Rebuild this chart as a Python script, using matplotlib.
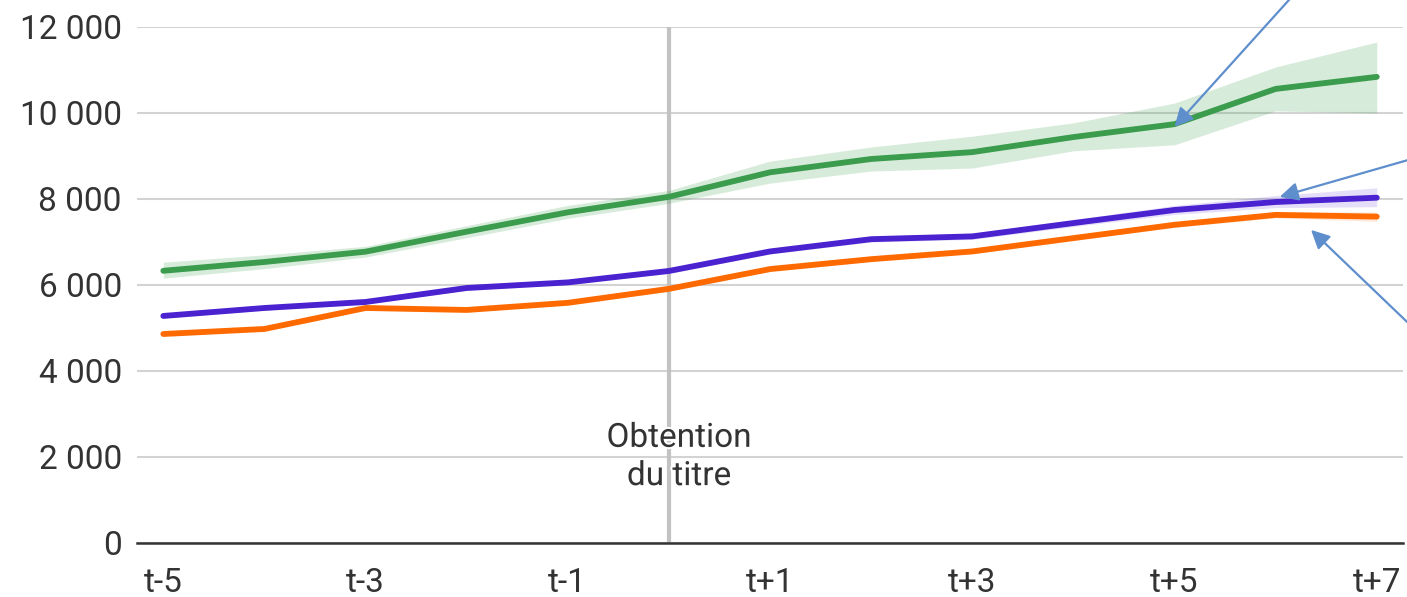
import matplotlib.pyplot as plt
import matplotlib.patheffects as pe
import numpy as np

plt.rcParams['font.family'] = ['Roboto', 'DejaVu Sans']

# periods around the title, t-5 .. t+7
periods = np.arange(-5, 8)
tick_pos = [-5, -3, -1, 1, 3, 5, 7]
tick_labels = ['t-5', 't-3', 't-1', 't+1', 't+3', 't+5', 't+7']

green = [6330, 6535, 6775, 7240, 7690, 8050, 8620, 8930, 9090, 9440, 9740, 10560, 10840]
green_hi = [6530, 6700, 6900, 7380, 7850, 8200, 8880, 9210, 9460, 9770, 10230, 11070, 11650]
green_lo = [6160, 6380, 6650, 7100, 7550, 7900, 8370, 8650, 8720, 9120, 9260, 10050, 10000]

purple = [5280, 5465, 5605, 5930, 6060, 6326, 6780, 7065, 7130, 7440, 7744, 7930, 8030]
purple_hi = [5330, 5515, 5655, 5980, 6110, 6380, 6840, 7130, 7200, 7520, 7850, 8080, 8260]
purple_lo = [5230, 5415, 5555, 5880, 6010, 6270, 6720, 7000, 7060, 7360, 7640, 7800, 7820]

orange = [4860, 4977, 5465, 5419, 5585, 5910, 6370, 6600, 6780, 7090, 7400, 7630, 7590]
orange_hi = [4900, 5020, 5510, 5460, 5630, 5960, 6420, 6650, 6830, 7140, 7460, 7700, 7700]
orange_lo = [4820, 4935, 5420, 5380, 5540, 5860, 6320, 6550, 6730, 7040, 7340, 7560, 7480]

# arrows (head, tail) pointing at the curves
arrows = [((5.0, 9680), (6.14, 12650)),
          ((6.04, 8050), (7.3, 8900)),
          ((6.35, 7280), (7.3, 5140))]

fig = plt.figure(figsize=(14.07, 5.97), dpi=100)
ax = fig.add_axes([0.0974, 0.0905, 0.8998, 0.8643])

ax.axvline(0, color='#c2c2c2', lw=3, zorder=1)

ax.fill_between(periods, green_lo, green_hi, color='#3a9c4c', alpha=0.2, lw=0, zorder=2)
ax.fill_between(periods, purple_lo, purple_hi, color='#4a22d0', alpha=0.15, lw=0, zorder=2)
ax.fill_between(periods, orange_lo, orange_hi, color='#ff6a00', alpha=0.15, lw=0, zorder=2)

ax.plot(periods, green, color='#3a9c4c', lw=4.2, zorder=3, solid_capstyle='round')
ax.plot(periods, orange, color='#ff6a00', lw=4.2, zorder=3, solid_capstyle='round')
ax.plot(periods, purple, color='#4a22d0', lw=4.2, zorder=4, solid_capstyle='round')

ax.text(0.1, 2000, 'Obtention\ndu titre', ha='center', va='center', fontsize=24,
        color='#333333', linespacing=1.25, zorder=5,
        path_effects=[pe.withStroke(linewidth=3, foreground='white')])

for head, tail in arrows:
    ax.annotate('', xy=head, xytext=tail, annotation_clip=False, zorder=6,
                arrowprops=dict(arrowstyle='-|>', color='#5f8ecd', lw=1.6,
                                mutation_scale=28, shrinkA=0, shrinkB=0))

ax.set_xlim(-5.26, 7.26)
ax.set_ylim(0, 12000)
ax.set_yticks(range(0, 12001, 2000))
ax.set_yticklabels([f'{v:,}'.replace(',', ' ') for v in range(0, 12001, 2000)])
ax.set_xticks(tick_pos)
ax.set_xticklabels(tick_labels)
ax.tick_params(length=0, labelsize=24, labelcolor='#333333')
ax.tick_params(axis='y', pad=11)
ax.tick_params(axis='x', pad=17)

ax.grid(axis='y', color='#d3d3d3', lw=1.5, zorder=0)
ax.set_axisbelow(True)
for s in ['top', 'right', 'left']:
    ax.spines[s].set_visible(False)
ax.spines['bottom'].set_color('#333333')
ax.spines['bottom'].set_linewidth(1.8)
ax.spines['bottom'].set_zorder(5)

fig.savefig('out.png', dpi=100)
